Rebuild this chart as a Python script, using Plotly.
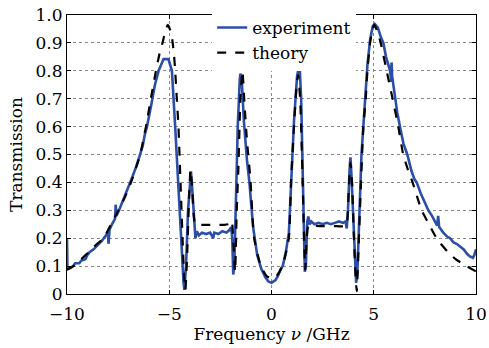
import plotly.graph_objects as go

# Theory curve
theory_x = [-10.0, -9.68, -9.3, -8.94, -8.6, -8.21, -7.85, -7.48, -7.15, -6.87, -6.64, -6.42,
            -6.14, -5.9, -5.65, -5.45, -5.33, -5.2, -5.07, -4.95, -4.85, -4.77, -4.71, -4.63,
            -4.55, -4.45, -4.35, -4.27, -4.21, -4.12, -4.03, -3.96, -3.88, -3.80, -3.72,
            -3.0, -2.3, -2.02, -1.94, -1.86, -1.78, -1.70, -1.62, -1.52, -1.42, -1.32, -1.2,
            -1.03, -0.85, -0.52, -0.25, 0.0, 0.25, 0.54, 0.85, 0.96, 1.1, 1.22, 1.3, 1.4,
            1.52, 1.6, 1.65, 1.72, 1.8, 1.9, 2.5, 3.2, 3.62, 3.7, 3.78, 3.86, 3.94, 4.03,
            4.12, 4.17, 4.25, 4.35, 4.49, 4.61, 4.69, 4.82, 4.93, 5.03, 5.15, 5.34, 5.63,
            5.92, 6.2, 6.44, 6.65, 6.9, 7.34, 7.7, 8.07, 8.63, 9.0, 9.54, 10.0]
theory_y = [0.087, 0.10, 0.125, 0.15, 0.175, 0.20, 0.25, 0.30, 0.35, 0.40, 0.45, 0.50,
            0.60, 0.70, 0.80, 0.87, 0.90, 0.94, 0.965, 0.945, 0.91, 0.86, 0.80, 0.70,
            0.60, 0.40, 0.20, 0.06, 0.015, 0.15, 0.35, 0.445, 0.38, 0.28, 0.25,
            0.248, 0.248, 0.252, 0.262, 0.18, 0.08, 0.30, 0.45, 0.70, 0.80, 0.68, 0.55,
            0.41, 0.20, 0.10, 0.065, 0.055, 0.065, 0.10, 0.20, 0.41, 0.60, 0.74, 0.785, 0.70,
            0.41, 0.18, 0.087, 0.20, 0.245, 0.245, 0.243, 0.243, 0.243, 0.26, 0.38, 0.47, 0.40, 0.20,
            0.05, 0.01, 0.15, 0.35, 0.60, 0.70, 0.80, 0.90, 0.945, 0.965, 0.945, 0.90, 0.80,
            0.70, 0.60, 0.50, 0.45, 0.40, 0.30, 0.25, 0.20, 0.15, 0.125, 0.10, 0.081]

# Experiment curve
exp_x = [-10.0, -9.98, -9.8, -9.7, -9.6, -9.4, -9.3, -9.1, -9.0, -8.9, -8.7, -8.5, -8.3,
         -8.1, -8.0, -7.97, -7.92, -7.8, -7.65, -7.62, -7.58, -7.4, -7.2, -7.0, -6.8, -6.6,
         -6.4, -6.3, -6.2, -6.09, -5.9, -5.7, -5.52, -5.4, -5.28, -5.04, -4.95, -4.87, -4.71,
         -4.6, -4.5, -4.4, -4.3, -4.26, -4.18, -4.08, -3.99, -3.94, -3.88, -3.8, -3.72, -3.65,
         -3.55, -3.4, -3.2, -3.0, -2.85, -2.8, -2.6, -2.4, -2.2, -2.05, -1.97, -1.92, -1.87,
         -1.82, -1.75, -1.65, -1.55, -1.52, -1.45, -1.35, -1.2, -1.08, -0.9, -0.7, -0.5, -0.3,
         -0.15, 0.0, 0.1, 0.2, 0.35, 0.45, 0.55, 0.7, 0.85, 0.93, 1.0, 1.1, 1.25, 1.37, 1.45,
         1.52, 1.58, 1.63, 1.68, 1.75, 1.8, 1.87, 1.95, 2.1, 2.3, 2.5, 2.7, 2.9, 3.1, 3.3, 3.5,
         3.62, 3.68, 3.74, 3.82, 3.86, 3.9, 3.98, 4.07, 4.14, 4.2, 4.3, 4.4, 4.49, 4.61, 4.69,
         4.82, 4.95, 5.05, 5.2, 5.35, 5.47, 5.6, 5.8, 5.86, 5.87, 5.9, 6.04, 6.15, 6.28, 6.45,
         6.64, 6.85, 7.0, 7.1, 7.3, 7.5, 7.67, 7.85, 8.0, 8.1, 8.15, 8.2, 8.4, 8.6, 8.73, 8.9,
         9.05, 9.2, 9.4, 9.55, 9.7, 9.85, 9.92, 10.0]
exp_y = [0.20, 0.09, 0.095, 0.10, 0.11, 0.11, 0.12, 0.125, 0.14, 0.15, 0.16, 0.175, 0.19,
         0.21, 0.22, 0.18, 0.23, 0.25, 0.27, 0.32, 0.28, 0.31, 0.345, 0.38, 0.42, 0.46,
         0.505, 0.53, 0.57, 0.60, 0.67, 0.75, 0.80, 0.82, 0.842, 0.842, 0.82, 0.80, 0.60,
         0.45, 0.30, 0.15, 0.04, 0.015, 0.10, 0.30, 0.42, 0.44, 0.38, 0.27, 0.20, 0.225,
         0.21, 0.22, 0.215, 0.22, 0.20, 0.22, 0.215, 0.225, 0.22, 0.23, 0.24, 0.20, 0.07,
         0.10, 0.35, 0.60, 0.77, 0.79, 0.76, 0.62, 0.48, 0.40, 0.24, 0.14, 0.09, 0.06,
         0.045, 0.04, 0.045, 0.05, 0.07, 0.09, 0.10, 0.15, 0.22, 0.35, 0.45, 0.62, 0.78, 0.827, 0.70,
         0.45, 0.25, 0.08, 0.10, 0.26, 0.278, 0.25, 0.26, 0.25, 0.255, 0.25, 0.255, 0.25, 0.255, 0.26, 0.255,
         0.26, 0.235, 0.30, 0.45, 0.49, 0.44, 0.30, 0.12, 0.04, 0.08, 0.30, 0.50, 0.60, 0.72, 0.82,
         0.91, 0.96, 0.968, 0.955, 0.92, 0.90, 0.85, 0.80, 0.76, 0.83, 0.78, 0.70, 0.65, 0.60, 0.54,
         0.50, 0.44, 0.41, 0.40, 0.36, 0.33, 0.30, 0.28, 0.26, 0.245, 0.28, 0.24, 0.22, 0.205, 0.20, 0.185,
         0.18, 0.17, 0.16, 0.145, 0.135, 0.13, 0.14, 0.16]

x_ticks = [-10, -5, 0, 5, 10]
y_ticks = [0, 0.1, 0.2, 0.3, 0.4, 0.5, 0.6, 0.7, 0.8, 0.9, 1.0]
y_tick_labels = ["0", "0.1", "0.2", "0.3", "0.4", "0.5", "0.6", "0.7", "0.8", "0.9", "1.0"]

FONT = "DejaVu Serif"

fig = go.Figure()
fig.add_trace(go.Scatter(x=exp_x, y=exp_y, mode="lines", name="experiment",
                         line=dict(color="#2b4ea6", width=2.6)))
fig.add_trace(go.Scatter(x=theory_x, y=theory_y, mode="lines", name="theory",
                         line=dict(color="black", width=2.2, dash="dash", shape="spline",
                                   smoothing=0.5)))

axis_common = dict(showline=True, linecolor="black", linewidth=1, mirror="ticks",
                   ticks="inside", ticklen=4, tickcolor="black",
                   showgrid=True, gridcolor="#888888", gridwidth=1, griddash="dot",
                   zeroline=False, tickfont=dict(family=FONT, size=17, color="black"))

fig.update_xaxes(range=[-10, 10], tickvals=x_ticks, ticklabelstandoff=5,
                 title=dict(text="Frequency <i>ν</i> /GHz", font=dict(family=FONT, size=17, color="black"),
                            standoff=2),
                 **axis_common)
fig.update_yaxes(range=[0, 1.0], tickvals=y_ticks, ticktext=y_tick_labels,
                 title=dict(text="Transmission", font=dict(family=FONT, size=17, color="black"),
                            standoff=8),
                 **axis_common)

fig.update_layout(
    width=489, height=348,
    margin=dict(l=67, r=13, t=15, b=54, autoexpand=False),
    paper_bgcolor="white", plot_bgcolor="white",
    showlegend=True,
    legend=dict(x=0.355, y=1.018, xanchor="left", yanchor="top",
                bgcolor="white", borderwidth=0,
                font=dict(family=FONT, size=17, color="black"),
                tracegroupgap=0, itemwidth=30),
)

fig.write_html("out.html")
